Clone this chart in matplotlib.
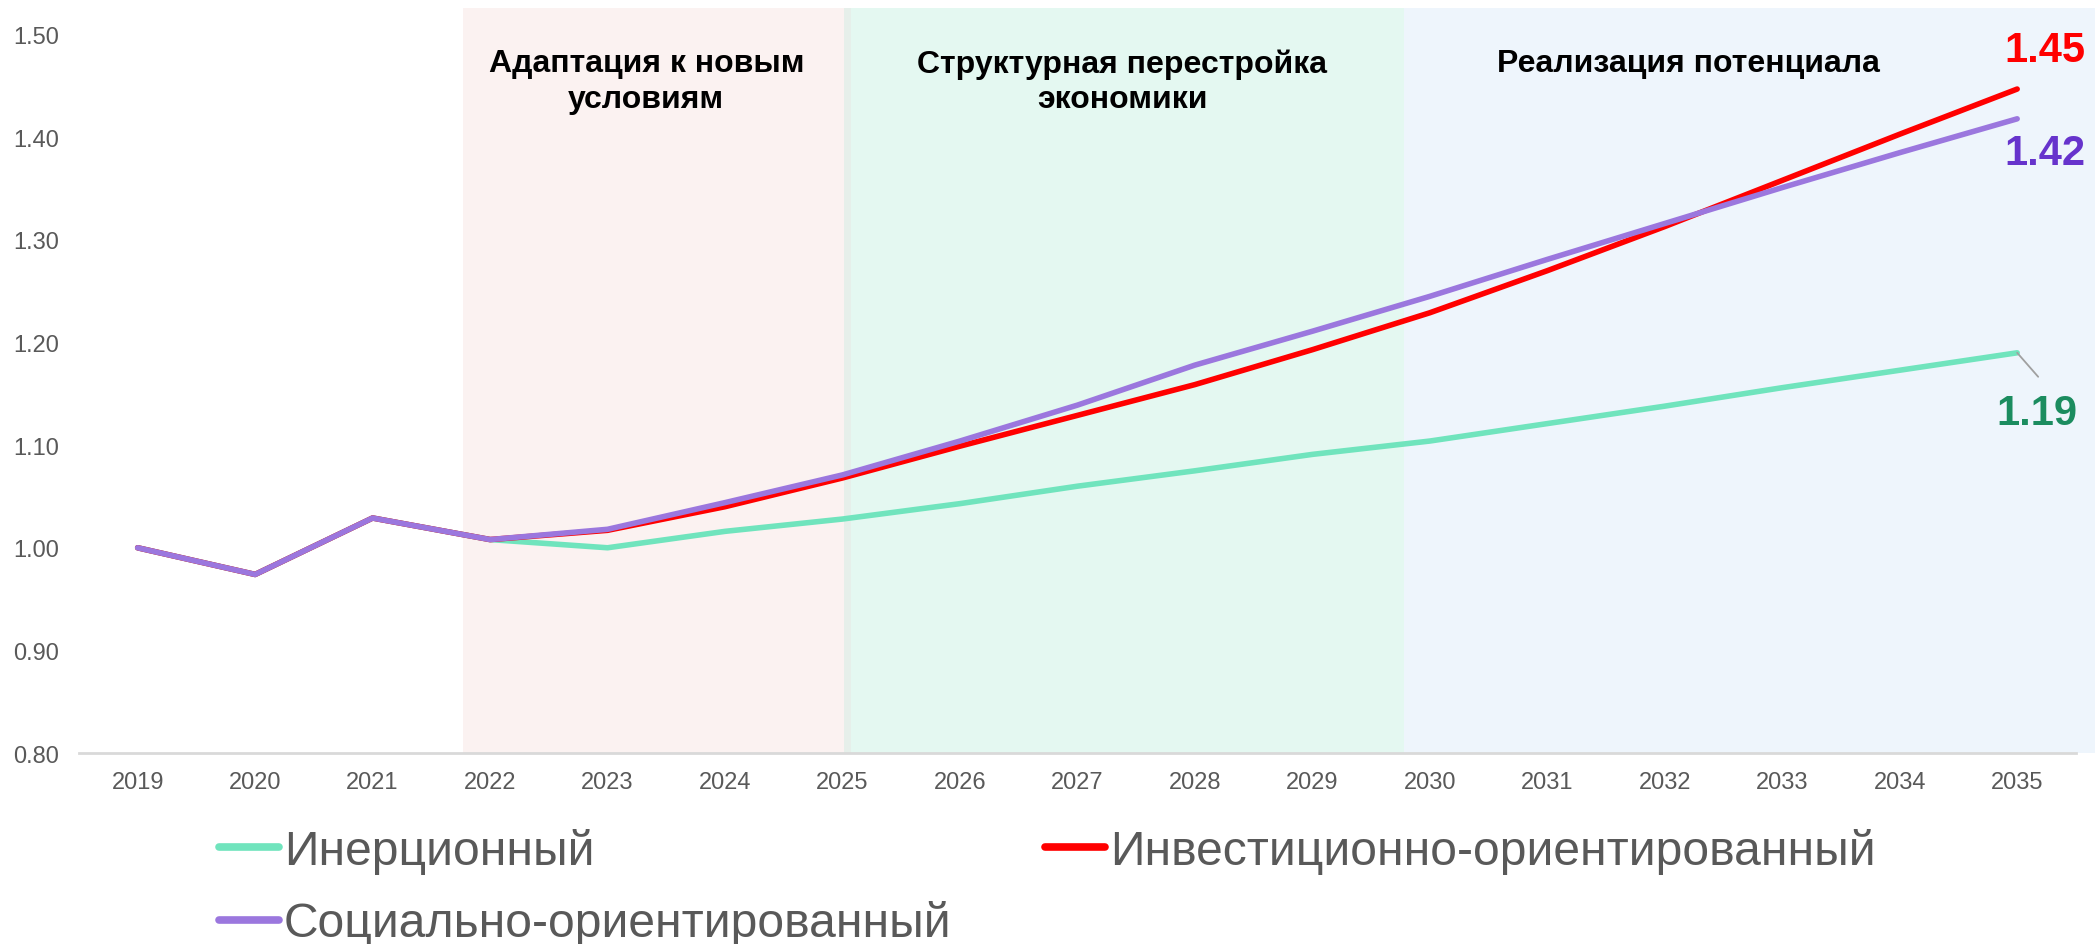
import matplotlib
matplotlib.use('Agg')
import matplotlib.pyplot as plt
from matplotlib.patches import Rectangle
from matplotlib.lines import Line2D

plt.rcParams['font.family'] = ['Liberation Sans', 'DejaVu Sans']

years = [str(y) for y in range(2019, 2036)]

inertial = [1.000, 0.974, 1.029, 1.008, 1.000, 1.016, 1.028, 1.043, 1.060,
            1.075, 1.091, 1.104, 1.121, 1.138, 1.156, 1.173, 1.190]
investment = [1.000, 0.974, 1.029, 1.008, 1.017, 1.040, 1.068, 1.099, 1.129,
              1.159, 1.193, 1.229, 1.270, 1.313, 1.358, 1.403, 1.447]
social = [1.000, 0.974, 1.029, 1.008, 1.018, 1.044, 1.071, 1.104, 1.139,
          1.178, 1.211, 1.245, 1.281, 1.316, 1.351, 1.385, 1.418]

series_names = ['Инерционный', 'Инвестиционно-ориентированный', 'Социально-ориентированный']
end_labels = ['1.19', '1.45', '1.42']

# phase bands: (title, start, end, title centre) in category index units
phases = [
    ('Адаптация к новым\nусловиям', 2.77, 6.07, 4.33),
    ('Структурная перестройка\nэкономики', 6.07, 10.78, 8.38),
    ('Реализация потенциала', 10.78, 16.66, 13.2),
]
phase_colors = ['#FBF2F1', '#E4F8F1', '#EEF5FC']

c_green, c_red, c_purple = '#70E4BD', '#FF0000', '#9B77DE'
tick_gray = '#595959'

fig = plt.figure(figsize=(20.99, 9.45), dpi=100)
ax = fig.add_axes([0.0376, 0.2021, 0.9514, 0.7884])

ymin, ymax = 0.8, 1.526
x = list(range(len(years)))

for (title, x0, x1, xc), col in zip(phases, phase_colors):
    ax.add_patch(Rectangle((x0, ymin), x1 - x0, ymax - ymin, facecolor=col,
                           edgecolor='none', zorder=0, clip_on=False))
    ax.text(xc, 1.487, title, ha='center', va='top',
            fontsize=23, fontweight='bold', color='black', linespacing=1.25,
            zorder=1)
# thin overlap strip between first two bands
ax.add_patch(Rectangle((6.01, ymin), 0.06, ymax - ymin, facecolor='#E6EFEA',
                       edgecolor='none', zorder=0))

ax.plot(x, inertial, color=c_green, lw=4, solid_capstyle='round', zorder=3)
ax.plot(x, investment, color=c_red, lw=4, solid_capstyle='round', zorder=4)
ax.plot(x, social, color=c_purple, lw=4, solid_capstyle='round', zorder=5)

# end labels
ax.annotate(end_labels[1], xy=(x[-1], investment[-1]), xytext=(28, 39),
            textcoords='offset pixels', ha='center', va='center',
            fontsize=30, fontweight='bold', color='#FF0000')
ax.annotate(end_labels[2], xy=(x[-1], social[-1]), xytext=(28, -34),
            textcoords='offset pixels', ha='center', va='center',
            fontsize=30, fontweight='bold', color='#6633CC')
ax.annotate('', xy=(x[-1], inertial[-1]), xytext=(21, -24),
            textcoords='offset pixels',
            arrowprops=dict(arrowstyle='-', color='#A0A0A0', lw=1.3,
                            shrinkA=0, shrinkB=0))
ax.annotate(end_labels[0], xy=(x[-1], inertial[-1]), xytext=(20, -60),
            textcoords='offset pixels', ha='center', va='center',
            fontsize=30, fontweight='bold', color='#1B8C5F')

ax.set_xlim(-0.5, len(years) - 0.5)
ax.set_ylim(ymin, ymax)
ax.set_xticks(x)
ax.set_xticklabels(years)
ax.set_yticks([0.8, 0.9, 1.0, 1.1, 1.2, 1.3, 1.4, 1.5])
ax.set_yticklabels(['0.80', '0.90', '1.00', '1.10', '1.20', '1.30', '1.40', '1.50'])
ax.tick_params(axis='both', length=0, labelsize=17, colors=tick_gray)
ax.tick_params(axis='x', pad=13)
ax.tick_params(axis='y', pad=14)

for side in ['top', 'right', 'left']:
    ax.spines[side].set_visible(False)
ax.spines['bottom'].set_color('#D9D9D9')
ax.spines['bottom'].set_linewidth(2)
ax.spines['bottom'].set_zorder(6)
ax.set_facecolor('none')

handles = [Line2D([], [], color=c_green, lw=5.5, solid_capstyle='round'),
           Line2D([], [], color=c_purple, lw=5.5, solid_capstyle='round'),
           Line2D([], [], color=c_red, lw=5.5, solid_capstyle='round')]
labels = [series_names[0], series_names[2], series_names[1]]
leg = fig.legend(handles, labels, loc='upper left', bbox_to_anchor=(219 / 2099, 1 - 829 / 945),
                 ncol=2, frameon=False, fontsize=34.6, handlelength=1.25,
                 handletextpad=0.1, columnspacing=1.95, labelspacing=0.55,
                 borderpad=0, borderaxespad=0)
for t in leg.get_texts():
    t.set_color(tick_gray)

fig.savefig('out.png', dpi=100)
